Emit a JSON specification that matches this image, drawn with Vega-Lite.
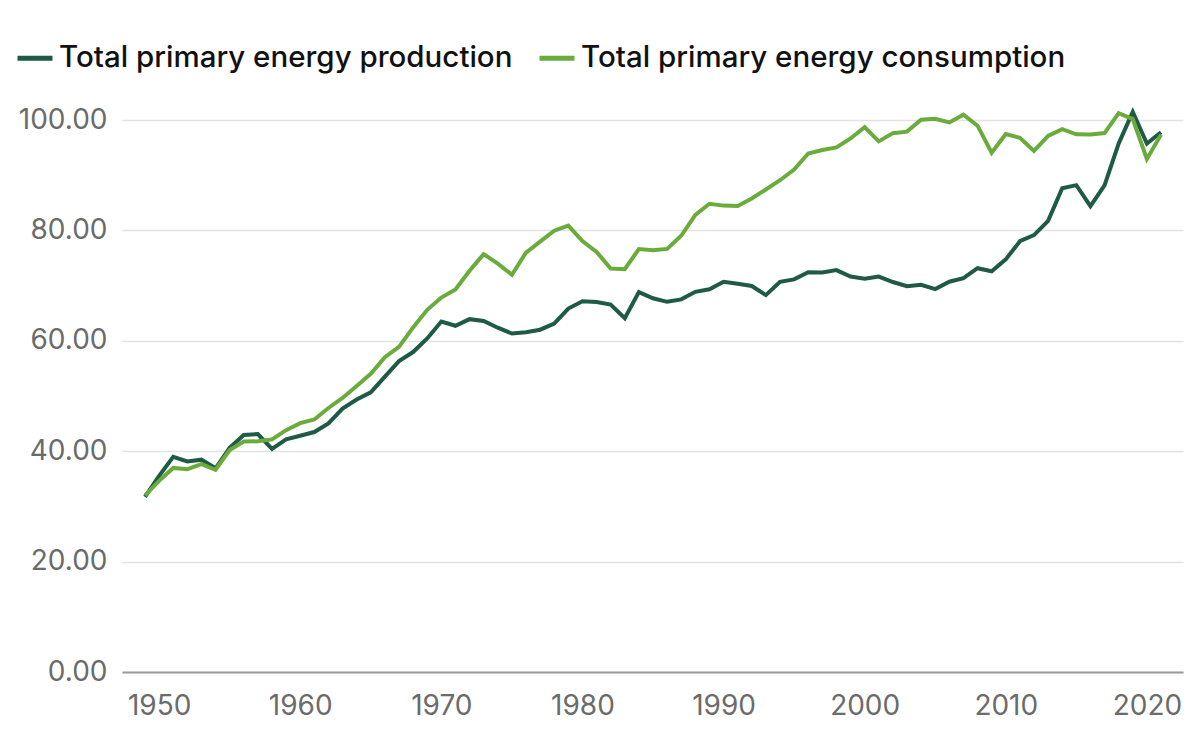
{
  "$schema": "https://vega.github.io/schema/vega-lite/v6.json",
  "autosize": "none",
  "width": 1061,
  "height": 552,
  "padding": {"left": 122, "top": 120, "right": 17, "bottom": 77},
  "background": "white",
  "config": {
    "font": "Inter",
    "view": {"stroke": null}
  },
  "data": {
    "values": [
      {"year": 1949, "Total primary energy production": 31.72, "Total primary energy consumption": 31.98},
      {"year": 1950, "Total primary energy production": 35.54, "Total primary energy consumption": 34.62},
      {"year": 1951, "Total primary energy production": 38.99, "Total primary energy consumption": 36.97},
      {"year": 1952, "Total primary energy production": 38.15, "Total primary energy consumption": 36.75},
      {"year": 1953, "Total primary energy production": 38.47, "Total primary energy consumption": 37.66},
      {"year": 1954, "Total primary energy production": 36.90, "Total primary energy consumption": 36.64},
      {"year": 1955, "Total primary energy production": 40.62, "Total primary energy consumption": 40.21},
      {"year": 1956, "Total primary energy production": 42.95, "Total primary energy consumption": 41.75},
      {"year": 1957, "Total primary energy production": 43.09, "Total primary energy consumption": 41.79},
      {"year": 1958, "Total primary energy production": 40.41, "Total primary energy consumption": 42.14},
      {"year": 1959, "Total primary energy production": 42.16, "Total primary energy consumption": 43.81},
      {"year": 1960, "Total primary energy production": 42.80, "Total primary energy consumption": 45.09},
      {"year": 1961, "Total primary energy production": 43.47, "Total primary energy consumption": 45.74},
      {"year": 1962, "Total primary energy production": 45.04, "Total primary energy consumption": 47.83},
      {"year": 1963, "Total primary energy production": 47.72, "Total primary energy consumption": 49.65},
      {"year": 1964, "Total primary energy production": 49.35, "Total primary energy consumption": 51.82},
      {"year": 1965, "Total primary energy production": 50.67, "Total primary energy consumption": 54.02},
      {"year": 1966, "Total primary energy production": 53.51, "Total primary energy consumption": 57.02},
      {"year": 1967, "Total primary energy production": 56.33, "Total primary energy consumption": 58.91},
      {"year": 1968, "Total primary energy production": 57.96, "Total primary energy consumption": 62.42},
      {"year": 1969, "Total primary energy production": 60.43, "Total primary energy consumption": 65.62},
      {"year": 1970, "Total primary energy production": 63.50, "Total primary energy consumption": 67.84},
      {"year": 1971, "Total primary energy production": 62.72, "Total primary energy consumption": 69.29},
      {"year": 1972, "Total primary energy production": 63.92, "Total primary energy consumption": 72.70},
      {"year": 1973, "Total primary energy production": 63.59, "Total primary energy consumption": 75.71},
      {"year": 1974, "Total primary energy production": 62.37, "Total primary energy consumption": 73.99},
      {"year": 1975, "Total primary energy production": 61.32, "Total primary energy consumption": 71.97},
      {"year": 1976, "Total primary energy production": 61.55, "Total primary energy consumption": 75.98},
      {"year": 1977, "Total primary energy production": 62.01, "Total primary energy consumption": 77.96},
      {"year": 1978, "Total primary energy production": 63.11, "Total primary energy consumption": 79.95},
      {"year": 1979, "Total primary energy production": 65.84, "Total primary energy consumption": 80.86},
      {"year": 1980, "Total primary energy production": 67.18, "Total primary energy consumption": 78.07},
      {"year": 1981, "Total primary energy production": 67.01, "Total primary energy consumption": 76.11},
      {"year": 1982, "Total primary energy production": 66.57, "Total primary energy consumption": 73.10},
      {"year": 1983, "Total primary energy production": 64.11, "Total primary energy consumption": 72.97},
      {"year": 1984, "Total primary energy production": 68.83, "Total primary energy consumption": 76.63},
      {"year": 1985, "Total primary energy production": 67.70, "Total primary energy consumption": 76.39},
      {"year": 1986, "Total primary energy production": 67.06, "Total primary energy consumption": 76.64},
      {"year": 1987, "Total primary energy production": 67.51, "Total primary energy consumption": 79.02},
      {"year": 1988, "Total primary energy production": 68.87, "Total primary energy consumption": 82.82},
      {"year": 1989, "Total primary energy production": 69.34, "Total primary energy consumption": 84.83},
      {"year": 1990, "Total primary energy production": 70.70, "Total primary energy consumption": 84.49},
      {"year": 1991, "Total primary energy production": 70.33, "Total primary energy consumption": 84.43},
      {"year": 1992, "Total primary energy production": 69.93, "Total primary energy consumption": 85.79},
      {"year": 1993, "Total primary energy production": 68.28, "Total primary energy consumption": 87.42},
      {"year": 1994, "Total primary energy production": 70.67, "Total primary energy consumption": 89.09},
      {"year": 1995, "Total primary energy production": 71.13, "Total primary energy consumption": 91.03},
      {"year": 1996, "Total primary energy production": 72.42, "Total primary energy consumption": 93.94},
      {"year": 1997, "Total primary energy production": 72.37, "Total primary energy consumption": 94.57},
      {"year": 1998, "Total primary energy production": 72.81, "Total primary energy consumption": 95.03},
      {"year": 1999, "Total primary energy production": 71.65, "Total primary energy consumption": 96.65},
      {"year": 2000, "Total primary energy production": 71.25, "Total primary energy consumption": 98.70},
      {"year": 2001, "Total primary energy production": 71.64, "Total primary energy consumption": 96.13},
      {"year": 2002, "Total primary energy production": 70.65, "Total primary energy consumption": 97.62},
      {"year": 2003, "Total primary energy production": 69.88, "Total primary energy consumption": 97.89},
      {"year": 2004, "Total primary energy production": 70.16, "Total primary energy consumption": 100.05},
      {"year": 2005, "Total primary energy production": 69.37, "Total primary energy consumption": 100.21},
      {"year": 2006, "Total primary energy production": 70.70, "Total primary energy consumption": 99.55},
      {"year": 2007, "Total primary energy production": 71.35, "Total primary energy consumption": 100.97},
      {"year": 2008, "Total primary energy production": 73.15, "Total primary energy consumption": 98.97},
      {"year": 2009, "Total primary energy production": 72.60, "Total primary energy consumption": 94.06},
      {"year": 2010, "Total primary energy production": 74.75, "Total primary energy consumption": 97.44},
      {"year": 2011, "Total primary energy production": 78.04, "Total primary energy consumption": 96.78},
      {"year": 2012, "Total primary energy production": 79.15, "Total primary energy consumption": 94.39},
      {"year": 2013, "Total primary energy production": 81.74, "Total primary energy consumption": 97.13},
      {"year": 2014, "Total primary energy production": 87.64, "Total primary energy consumption": 98.34},
      {"year": 2015, "Total primary energy production": 88.20, "Total primary energy consumption": 97.41},
      {"year": 2016, "Total primary energy production": 84.38, "Total primary energy consumption": 97.39},
      {"year": 2017, "Total primary energy production": 88.15, "Total primary energy consumption": 97.63},
      {"year": 2018, "Total primary energy production": 95.73, "Total primary energy consumption": 101.23},
      {"year": 2019, "Total primary energy production": 101.45, "Total primary energy consumption": 100.17},
      {"year": 2020, "Total primary energy production": 95.73, "Total primary energy consumption": 92.94},
      {"year": 2021, "Total primary energy production": 97.78, "Total primary energy consumption": 97.33}
    ]
  },
  "transform": [
    {"fold": ["Total primary energy production", "Total primary energy consumption"], "as": ["series", "value"]}
  ],
  "mark": {"type": "line", "strokeWidth": 4, "strokeJoin": "miter", "clip": false},
  "encoding": {
    "x": {
      "field": "year",
      "type": "quantitative",
      "scale": {"domain": [1947.37, 2022.56], "nice": false, "zero": false},
      "axis": {
        "title": null,
        "values": [1950, 1960, 1970, 1980, 1990, 2000, 2010, 2020],
        "format": "d",
        "grid": false,
        "ticks": false,
        "domain": true,
        "domainColor": "#9a9a9a",
        "domainWidth": 2,
        "labelFont": "Inter",
        "labelFontSize": 28,
        "labelColor": "#6b6b6b",
        "labelPadding": 20
      }
    },
    "y": {
      "field": "value",
      "type": "quantitative",
      "scale": {"domain": [0, 100], "nice": false},
      "axis": {
        "title": null,
        "values": [0, 20, 40, 60, 80, 100],
        "format": ".2f",
        "grid": true,
        "gridColor": "#e2e2e2",
        "gridWidth": 1.5,
        "ticks": false,
        "domain": false,
        "labelFont": "Inter",
        "labelFontSize": 28,
        "labelColor": "#6b6b6b",
        "labelPadding": 15
      }
    },
    "color": {
      "field": "series",
      "type": "nominal",
      "sort": ["Total primary energy production", "Total primary energy consumption"],
      "scale": {
        "domain": ["Total primary energy production", "Total primary energy consumption"],
        "range": ["#1e5a45", "#6aac3c"]
      },
      "legend": {
        "title": null,
        "orient": "none",
        "direction": "horizontal",
        "legendX": -107,
        "legendY": -82,
        "symbolType": "stroke",
        "symbolSize": 1225,
        "symbolStrokeWidth": 5,
        "labelFont": "Inter",
        "labelFontSize": 29.5,
        "labelFontWeight": 500,
        "labelColor": "#111111",
        "labelLimit": 700,
        "labelOffset": 4,
        "columnPadding": 16
      }
    }
  }
}
